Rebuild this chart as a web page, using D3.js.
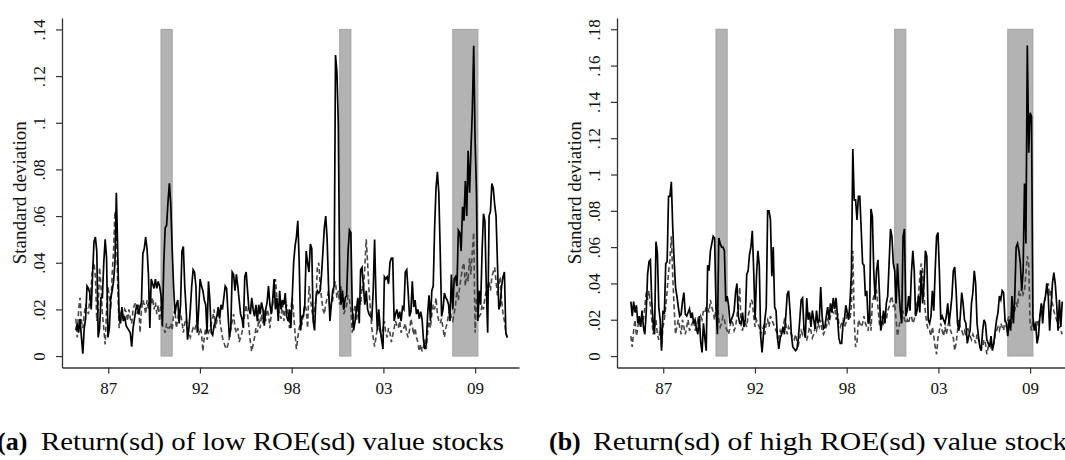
<!DOCTYPE html>
<html>
<head>
<meta charset="utf-8">
<script src="https://cdn.jsdelivr.net/npm/d3@7"></script>
<style>
  html, body { margin: 0; padding: 0; background: #fff; }
  svg { display: block; }
</style>
</head>
<body>
<svg id="chart" width="1065" height="460"></svg>
<script>
// Monthly series, June 1985 through March 2011 (310 months)
const firstMonth = 1985 + 5 / 12;

// Panel (a): low ROE(sd) value stocks
const solidA = [
  .011, .014, .010, .016, .008, .001, .012,
  .016, .030, .029, .027, .020, .035, .049, .051, .045, .008, .012, .025,
  .025, .040, .050, .042, .008, .012, .025, .028, .032, .040, .070, .045,
  .017, .014, .021, .015, .017, .013, .012, .011, .010, .004, .012, .016,
  .020, .022, .018, .021, .023, .044, .046, .051, .046, .035, .012, .033,
  .031, .029, .033, .029, .032, .030, .026, .013, .040, .055, .056, .066,
  .074, .065, .046, .030, .018, .022, .024, .014, .022, .045, .047, .030,
  .020, .007, .012, .020, .030, .037, .036, .030, .010, .020, .033, .030,
  .028, .024, .022, .010, .032, .024, .010, .009, .013, .015, .017, .021,
  .016, .022, .020, .025, .030, .029, .018, .008, .012, .036, .035, .028,
  .035, .030, .024, .018, .016, .012, .034, .036, .028, .020, .018, .025,
  .020, .017, .022, .015, .022, .018, .023, .020, .013, .020, .023, .030,
  .022, .018, .024, .033, .020, .025, .015, .028, .020, .024, .022, .027,
  .017, .015, .020, .012, .025, .040, .047, .051, .058, .040, .011, .017,
  .017, .022, .045, .040, .036, .048, .046, .015, .011, .025, .028, .027,
  .028, .035, .045, .055, .060, .050, .030, .015, .022, .028, .030, .129,
  .122, .100, .030, .022, .028, .020, .025, .026, .045, .054, .053, .020,
  .011, .015, .020, .025, .014, .037, .038, .030, .022, .028, .020, .018,
  .017, .016, .028, .050, .025, .011, .020, .012, .007, .003, .034, .033,
  .034, .031, .040, .042, .042, .015, .018, .020, .016, .019, .015, .021,
  .020, .036, .037, .028, .017, .019, .032, .021, .024, .018, .020, .016,
  .019, .016, .007, .003, .005, .018, .026, .015, .028, .030, .055, .072,
  .079, .070, .045, .017, .020, .027, .025, .024, .022, .015, .035, .020,
  .033, .034, .030, .054, .053, .045, .064, .058, .075, .060, .088, .070,
  .088, .105, .133, .092, .070, .015, .028, .022, .045, .061, .058, .030,
  .010, .060, .062, .074, .072, .065, .060, .040, .020, .022, .030, .034,
  .036, .010, .008
];
const dashedA = [
  .016, .008, .020, .025, .015, .012, .018,
  .022, .020, .018, .025, .030, .038, .040, .034, .015, .020, .038, .030,
  .018, .012, .005, .020, .030, .025, .020, .035, .045, .062, .058, .030,
  .012, .018, .020, .016, .020, .019, .015, .020, .016, .014, .020, .022,
  .023, .018, .022, .010, .020, .024, .022, .018, .024, .020, .028, .022,
  .025, .020, .023, .018, .022, .015, .022, .013, .012, .010, .014, .012,
  .012, .014, .011, .018, .020, .012, .016, .020, .018, .015, .010, .014,
  .016, .012, .010, .008, .010, .012, .011, .013, .017, .009, .012, .010,
  .002, .008, .012, .007, .010, .012, .014, .016, .020, .012, .015, .018,
  .016, .012, .008, .006, .004, .003, .005, .008, .012, .015, .018, .012,
  .010, .012, .006, .008, .010, .014, .018, .022, .018, .012, .006, .002,
  .005, .008, .012, .010, .016, .012, .018, .014, .020, .015, .020, .018,
  .012, .018, .022, .028, .033, .025, .020, .018, .016, .024, .015, .020,
  .022, .018, .012, .020, .025, .018, .010, .003, .008, .012, .015, .014,
  .018, .022, .020, .012, .030, .025, .020, .016, .020, .024, .038, .040,
  .030, .025, .020, .018, .022, .025, .028, .020, .022, .024, .030, .032,
  .025, .028, .022, .030, .025, .018, .020, .022, .026, .024, .020, .010,
  .018, .022, .015, .020, .025, .022, .030, .028, .038, .050, .040, .028,
  .020, .012, .008, .004, .008, .012, .014, .010, .008, .012, .015, .010,
  .008, .012, .010, .006, .009, .012, .015, .013, .012, .015, .010, .012,
  .012, .014, .010, .008, .011, .016, .013, .009, .012, .008, .006, .002,
  .005, .002, .004, .007, .003, .010, .015, .012, .018, .022, .020, .025,
  .018, .015, .014, .016, .012, .008, .012, .014, .018, .020, .016, .015,
  .018, .022, .028, .024, .030, .034, .038, .040, .030, .036, .032, .042,
  .035, .045, .053, .010, .025, .018, .017, .018, .022, .020, .025, .028,
  .030, .032, .028, .034, .036, .038, .032, .026, .030, .034, .024, .018,
  .015, .010, .008
];

// Panel (b): high ROE(sd) value stocks
const solidB = [
  .030, .022, .030, .024, .028, .018, .022,
  .016, .025, .016, .012, .024, .045, .052, .053, .030, .018, .012, .063,
  .057, .027, .020, .003, .025, .023, .051, .052, .088, .088, .096, .071,
  .053, .038, .033, .027, .022, .023, .030, .035, .023, .022, .024, .026,
  .021, .024, .018, .020, .015, .012, .022, .008, .002, .018, .010, .003,
  .050, .047, .058, .062, .066, .065, .027, .012, .065, .062, .060, .060,
  .058, .030, .033, .028, .018, .020, .022, .025, .035, .040, .022, .018,
  .018, .024, .016, .020, .045, .047, .056, .060, .069, .047, .020, .044,
  .058, .050, .011, .002, .012, .020, .027, .080, .080, .075, .044, .060,
  .027, .025, .010, .004, .010, .012, .016, .012, .022, .034, .036, .025,
  .012, .005, .004, .003, .004, .010, .020, .031, .032, .015, .010, .032,
  .020, .024, .016, .025, .020, .015, .025, .018, .020, .038, .022, .015,
  .016, .022, .027, .020, .029, .024, .032, .026, .032, .022, .010, .007,
  .007, .018, .020, .028, .024, .020, .030, .046, .114, .086, .086, .075,
  .088, .088, .070, .051, .050, .033, .036, .018, .020, .081, .077, .047,
  .031, .047, .053, .036, .014, .018, .025, .018, .029, .033, .051, .070,
  .066, .051, .047, .029, .051, .036, .025, .018, .066, .070, .022, .025,
  .033, .025, .046, .058, .047, .022, .025, .033, .024, .047, .029, .040,
  .058, .055, .020, .018, .022, .036, .025, .047, .066, .068, .047, .020,
  .022, .020, .018, .022, .029, .018, .025, .033, .047, .049, .036, .018,
  .014, .022, .035, .029, .020, .018, .007, .011, .014, .029, .035, .047,
  .040, .018, .011, .005, .003, .014, .020, .018, .009, .007, .005, .011,
  .003, .007, .014, .020, .024, .033, .031, .036, .035, .020, .018, .011,
  .020, .014, .033, .018, .033, .060, .062, .058, .051, .036, .047, .095,
  .062, .171, .112, .134, .132, .022, .014, .018, .007, .011, .022, .029,
  .018, .029, .033, .040, .033, .014, .027, .040, .046, .040, .029, .014,
  .031, .016, .030
];
const dashedB = [
  .011, .005, .014, .020, .011, .016, .020,
  .016, .023, .020, .027, .035, .031, .036, .027, .020, .012, .016, .020,
  .012, .009, .016, .005, .016, .020, .027, .036, .046, .053, .066, .044,
  .027, .012, .016, .020, .016, .012, .020, .016, .012, .016, .020, .014,
  .016, .018, .020, .014, .016, .020, .018, .022, .020, .025, .024, .027,
  .027, .024, .031, .027, .024, .020, .027, .030, .020, .016, .018, .022,
  .020, .016, .014, .012, .016, .020, .018, .014, .016, .022, .028, .038,
  .016, .014, .020, .018, .016, .022, .025, .031, .030, .022, .016, .020,
  .018, .016, .012, .014, .016, .012, .018, .020, .016, .022, .020, .018,
  .016, .014, .012, .010, .014, .012, .016, .020, .018, .012, .016, .014,
  .012, .010, .009, .012, .008, .006, .010, .014, .012, .016, .010, .009,
  .012, .016, .014, .010, .012, .016, .014, .018, .016, .020, .014, .012,
  .014, .016, .020, .018, .022, .025, .024, .028, .020, .024, .018, .016,
  .018, .020, .016, .018, .024, .022, .020, .028, .058, .020, .005, .008,
  .020, .018, .016, .018, .022, .018, .016, .014, .025, .014, .029, .033,
  .035, .036, .027, .018, .016, .022, .018, .020, .020, .025, .027, .031,
  .033, .027, .029, .020, .011, .016, .020, .020, .025, .020, .018, .020,
  .018, .022, .022, .018, .020, .025, .029, .033, .044, .051, .047, .033,
  .024, .018, .014, .014, .011, .016, .011, .005, .001, .010, .014, .018,
  .014, .011, .016, .012, .016, .020, .014, .012, .010, .003, .007, .014,
  .020, .016, .014, .012, .014, .011, .016, .014, .011, .009, .012, .010,
  .007, .012, .009, .007, .004, .005, .009, .007, .001, .005, .007, .004,
  .005, .007, .012, .014, .016, .014, .018, .016, .014, .020, .016, .020,
  .022, .016, .020, .024, .025, .029, .027, .036, .033, .038, .034, .036,
  .046, .055, .051, .018, .014, .020, .016, .018, .020, .016, .022, .025,
  .027, .029, .033, .036, .040, .033, .036, .029, .025, .022, .020, .016,
  .016, .014, .012
];

// NBER recessions (decimal years)
const recessionStart = [1990.5, 2001 + 2 / 12, 2007 + 11 / 12];
const recessionEnd   = [1991 + 2 / 12, 2001 + 10 / 12, 2009 + 5 / 12];

// Shared x ticks (labelled with two-digit years)
const xTickValues = [1987.35, 1992.825, 1998.3, 2003.775, 2009.25];
const xTickLabels = ["87", "92", "98", "03", "09"];

const yTicksA = [0, .02, .04, .06, .08, .10, .12, .14];
const yTicksB = [0, .02, .04, .06, .08, .10, .12, .14, .16, .18];

const yTitle = "Standard deviation";
const captions = [
  { tag: "(a)", text: "Return(sd) of low ROE(sd) value stocks" },
  { tag: "(b)", text: "Return(sd) of high ROE(sd) value stocks" }
];

const svg = d3.select("#chart");
const serif = "'Liberation Serif', 'Times New Roman', serif";

const fmtY = d => d === 0 ? "0" : String(+d.toFixed(2)).replace(/^0/, "");

function drawPanel(cfg) {
  const g = svg.append("g");

  const x = d3.scaleLinear()
    .domain([1984.59, 2011.87])
    .range([cfg.left, cfg.left + 457]);

  const y = d3.scaleLinear()
    .domain(cfg.yDomain)
    .range([367.5, 18]);

  // recession shading
  g.append("g").selectAll("rect")
    .data(recessionStart.map((s, i) => [s, recessionEnd[i]]))
    .join("rect")
    .attr("x", d => x(d[0]))
    .attr("width", d => x(d[1]) - x(d[0]))
    .attr("y", y(cfg.yMax))
    .attr("height", y(0) - y(cfg.yMax))
    .attr("fill", "#b3b3b3")
    .attr("stroke", "#a2a2a2")
    .attr("stroke-width", 1);

  const line = d3.line()
    .x((d, i) => x(firstMonth + i / 12))
    .y(d => y(d));

  g.append("path")
    .datum(cfg.dashed)
    .attr("d", line)
    .attr("fill", "none")
    .attr("stroke", "#474747")
    .attr("stroke-width", 1.6)
    .attr("stroke-dasharray", "5,3");

  g.append("path")
    .datum(cfg.solid)
    .attr("d", line)
    .attr("fill", "none")
    .attr("stroke", "#000")
    .attr("stroke-width", 1.7);

  // y axis
  const yAxis = g.append("g")
    .attr("transform", `translate(${cfg.left},0)`)
    .call(d3.axisLeft(y).tickValues(cfg.yTicks).tickFormat(fmtY)
      .tickSize(6).tickSizeOuter(0));
  yAxis.selectAll("text")
    .attr("x", null).attr("dy", null)
    .attr("transform", "translate(-17,0) rotate(-90)")
    .attr("text-anchor", "middle");

  // x axis
  const xAxis = g.append("g")
    .attr("transform", "translate(0,367.5)")
    .call(d3.axisBottom(x).tickValues(xTickValues)
      .tickFormat((d, i) => xTickLabels[i])
      .tickSize(6).tickSizeOuter(0));
  xAxis.selectAll("text").attr("y", 26).attr("dy", null);

  [yAxis, xAxis].forEach(ax => {
    ax.attr("font-family", serif).attr("font-size", 17);
    ax.select(".domain").attr("stroke", "#333").attr("stroke-width", 1.3);
    ax.selectAll(".tick line").attr("stroke", "#333").attr("stroke-width", 1.2);
    ax.selectAll("text").attr("fill", "#111");
  });

  // axis title
  g.append("text")
    .attr("transform", `translate(${cfg.left - 36},${(y(0) + y(cfg.yMax)) / 2}) rotate(-90)`)
    .attr("text-anchor", "middle")
    .attr("font-family", serif)
    .attr("font-size", 19)
    .attr("fill", "#111")
    .text(yTitle);

  // caption
  const cap = svg.append("g")
    .attr("font-family", serif)
    .attr("font-size", 26)
    .attr("fill", "#000");
  cap.append("text")
    .attr("x", cfg.capX)
    .attr("y", 450)
    .attr("font-weight", "bold")
    .text(cfg.caption.tag);
  cap.append("text")
    .attr("x", cfg.capX + 44)
    .attr("y", 450)
    .attr("textLength", cfg.capWidth)
    .attr("lengthAdjust", "spacingAndGlyphs")
    .text(cfg.caption.text);
}

drawPanel({
  left: 62, yDomain: [-0.0049, 0.1449], yMax: .14, yTicks: yTicksA,
  solid: solidA, dashed: dashedA,
  caption: captions[0], capX: -3, capWidth: 463
});
drawPanel({
  left: 617, yDomain: [-0.0063, 0.1862], yMax: .18, yTicks: yTicksB,
  solid: solidB, dashed: dashedB,
  caption: captions[1], capX: 549, capWidth: 486
});
</script>
</body>
</html>
